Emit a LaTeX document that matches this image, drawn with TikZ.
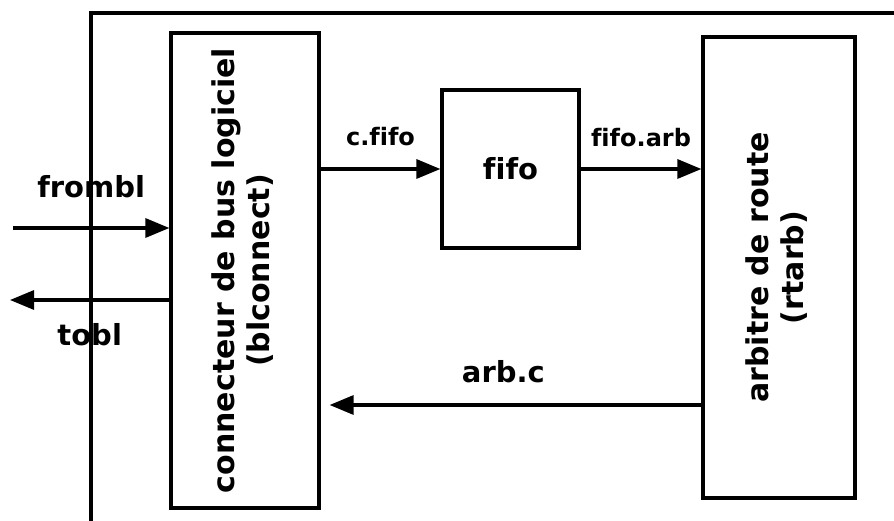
\documentclass[tikz,border=0pt]{standalone}
\usepackage{fontspec}
\setmainfont[Ligatures=NoCommon]{DejaVu Sans}
\usetikzlibrary{arrows.meta}
\usetikzlibrary{positioning}

\begin{document}
\begin{tikzpicture}[x=1pt, y=-1pt, line width=3.2pt,
  every node/.style = {font=\fontsize{29}{34}\selectfont\bfseries, inner sep=0pt},
  blk/.style = {draw, line width=3.2pt},
  sig/.style = {-{Triangle[length=24pt, width=19pt]}, line width=3.2pt},
  small/.style = {font=\fontsize{24}{28}\selectfont\bfseries},
  tall/.style = {font=\fontsize{30}{35}\selectfont\bfseries}]

\useasboundingbox (0,0) rectangle (894,521);

% outer frame
\draw (91,521) -- (91,13) -- (894,13);

% blocks
\node[blk, tall, minimum width=148pt, minimum height=475pt] (bl) at (245,270.5)
	{\rotatebox{90}{\begin{tabular}{@{}c@{}}connecteur de bus logiciel\\(blconnect)\end{tabular}}};
\node[blk, minimum width=137pt, minimum height=158pt] (fifo) at (510.5,169) {fifo};
\node[blk, tall, minimum width=152pt, minimum height=461pt] (rt) at (779,267.5)
	{\rotatebox{90}{\begin{tabular}{@{}c@{}}arbitre de route\\(rtarb)\end{tabular}}};

% free ends
\coordinate (frin) at (13,228);
\coordinate (toout) at (10,300);
\coordinate (back) at (700,405);

% signals
\draw[sig] (frin) -- node[above=28pt] (lfrom) {frombl} (bl.west |- frin);
\draw[sig] (bl.west |- toout) -- node[below=22pt] (lto) {tobl} (toout);
\draw[sig] (bl.east |- fifo.west) -- node[small, above=22pt] (lcf) {c.fifo} (fifo.west);
\draw[sig] (fifo.east) -- node[small, above=21pt] (lfa) {fifo.arb} (fifo.east -| rt.west);
\draw[sig, shorten >=9pt] (rt.west |- back) -- node[pos=0.52, above=20pt] (lac) {arb.c} (bl.east |- back);
\end{tikzpicture}
\end{document}
